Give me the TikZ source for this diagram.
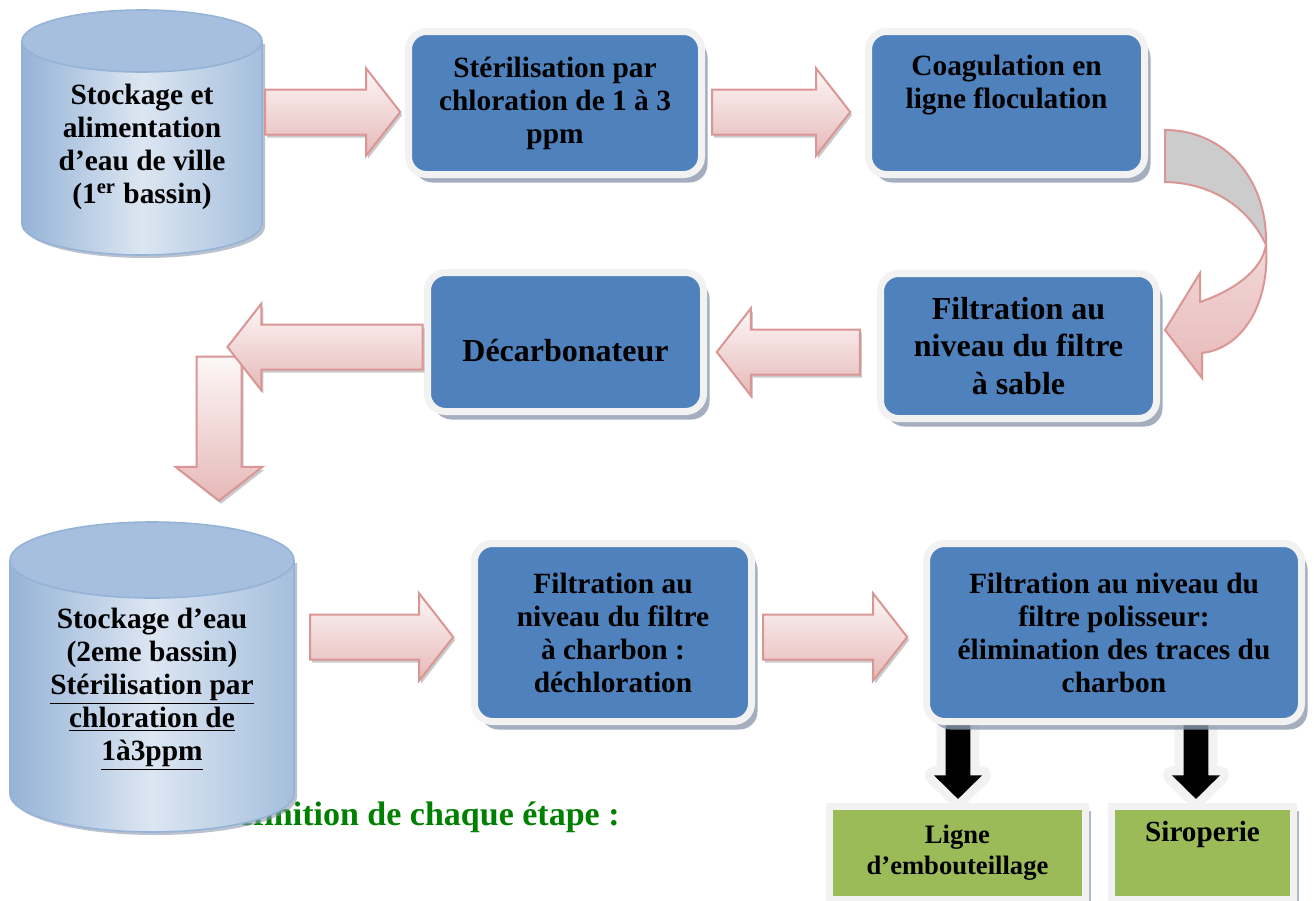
\documentclass[tikz,border=0pt]{standalone}
\usepackage{fontspec}
\setmainfont{Liberation Serif}
\usepackage{xcolor}
\usepackage{tikz}
\usetikzlibrary{shapes.arrows,shadows,positioning}
\definecolor{stageblue}{HTML}{4F81BD}
\definecolor{rim}{HTML}{F2F2F2}
\definecolor{hatch}{HTML}{8D9AAE}
\definecolor{outgreen}{HTML}{9BBB59}
\definecolor{arrowline}{HTML}{D99694}
\definecolor{arrowtop}{HTML}{FDF7F7}
\definecolor{arrowbot}{HTML}{E6B9B8}
\definecolor{tankcapc}{HTML}{A7BFDE}
\definecolor{tankedge}{HTML}{95B3D7}
\definecolor{tanklight}{HTML}{DCE6F2}
\definecolor{titlegreen}{HTML}{008000}
\tikzset{stage/.style={rectangle,rounded corners=9pt,draw=rim,line width=3.5pt,fill=stageblue,inner sep=0pt,align=center,font=\bfseries\fontsize{14.7}{16.5}\selectfont,drop shadow={shadow xshift=3pt,shadow yshift=-4pt,fill=hatch,opacity=0.8}}}
\tikzset{outlet/.style={rectangle,draw=rim,line width=3.5pt,fill=outgreen,inner sep=0pt,align=center,font=\bfseries\fontsize{14.6}{16.5}\selectfont,drop shadow={shadow xshift=2.5pt,shadow yshift=-2pt,fill=hatch,opacity=0.7}}}
\tikzset{flowarrow/.style={single arrow,single arrow head extend=10.5pt,single arrow tip angle=104,single arrow head indent=0pt,inner xsep=0pt,inner ysep=10.75pt,draw=arrowline,line width=1pt,top color=arrowtop,bottom color=arrowbot,drop shadow={shadow xshift=1pt,shadow yshift=-1.5pt,fill=gray!70,opacity=0.6}}}
\tikzset{downflow/.style={flowarrow,shape border rotate=270,inner xsep=10.75pt,inner ysep=0pt}}
\tikzset{outflow/.style={single arrow,shape border rotate=270,single arrow head extend=5.75pt,single arrow tip angle=91,single arrow head indent=0pt,inner xsep=6pt,inner ysep=0pt,minimum height=39pt,fill=black,preaction={draw=rim,line width=9pt,line join=round}}}
\tikzset{tankbody/.style={left color=tankedge,right color=tankedge!85!white,middle color=tanklight,drop shadow={shadow xshift=1.5pt,shadow yshift=-1.5pt,fill=hatch,opacity=0.6}}}
\tikzset{tankline/.style={draw=tankedge,line width=0.8pt}}
\tikzset{tankcap/.style={fill=tankcapc,draw=tankedge,line width=0.8pt}}
\tikzset{tanktext/.style={align=center,inner sep=0pt,font=\bfseries\fontsize{14.7}{16.5}\selectfont}}
\tikzset{titletext/.style={inner sep=0pt,text=titlegreen,font=\bfseries\fontsize{17}{20}\selectfont}}
\tikzset{bendback/.style={fill=black!20,draw=arrowline,line width=1pt}}
\tikzset{bendfront/.style={top color=arrowtop!50!arrowbot,bottom color=arrowbot,draw=arrowline,line width=1pt}}

\begin{document}
\begin{tikzpicture}[x=0.5pt,y=-0.5pt,>=stealth]
        \useasboundingbox (0,0) rectangle (1314,901);
        \node[titletext,anchor=east] (title) at (620,817) {Définition de chaque étape :};

        \shade[tankbody] (22,41) -- (22,224) arc[start angle=180,end angle=360,x radius=60pt,y radius=15.5pt] -- (262,41) -- cycle;
        \draw[tankline] (22,41) -- (22,224) arc[start angle=180,end angle=360,x radius=60pt,y radius=15.5pt] -- (262,41);
        \filldraw[tankcap] (142,41) ellipse[x radius=60pt,y radius=15.5pt];
        \node[tanktext] (tank1) at (142,147) {Stockage et\\alimentation\\d’eau de ville\\(1\textsuperscript{er} bassin)};

        \shade[tankbody] (10,560) -- (10,794) arc[start angle=180,end angle=360,x radius=71pt,y radius=19pt] -- (294,560) -- cycle;
        \draw[tankline] (10,560) -- (10,794) arc[start angle=180,end angle=360,x radius=71pt,y radius=19pt] -- (294,560);
        \filldraw[tankcap] (152,560) ellipse[x radius=71pt,y radius=19pt];
        \node[tanktext] (tank2) at (152,689) {Stockage d’eau\\(2eme bassin)\\\underline{Stérilisation par}\\\underline{chloration de}\\\underline{1à3ppm}};

        \node[outlet,minimum width=128pt,minimum height=46.5pt,font=\bfseries\fontsize{13.3}{15.5}\selectfont] (bottling) at (957.5,853) {Ligne\\d’embouteillage};
        \node[outlet,minimum width=91pt,minimum height=46.5pt] (syrup) at (1202.5,853) {Siroperie\\\strut};
        \node[outflow,anchor=tip] (out1) at ([shift={(0.5,-3.5)}]bottling.north) {};
        \node[outflow,anchor=tip] (out2) at ([shift={(-6.5,-3.5)}]syrup.north) {};

        \node[stage,minimum width=146.5pt,minimum height=71.5pt] (chlor) at (555,103) {Stérilisation par\\chloration de 1 à 3\\ppm};
        \node[stage,minimum width=138pt,minimum height=71.5pt] (coag) at (1006.5,103) {Coagulation en\\ligne floculation\\\strut};
        \node[stage,minimum width=138pt,minimum height=72.5pt,font=\bfseries\fontsize{16}{18.75}\selectfont] (sand) at (1018.5,346) {Filtration au\\niveau du filtre\\à sable};
        \node[stage,minimum width=138pt,minimum height=69.5pt,font=\bfseries\fontsize{16}{18.75}\selectfont,text height=19pt,text depth=0pt] (decarb) at (565.5,342) {Décarbonateur};
        \node[stage,minimum width=138.5pt,minimum height=89pt] (carbon) at (613,632.5) {Filtration au\\niveau du filtre\\à charbon :\\déchloration};
        \node[stage,minimum width=187.5pt,minimum height=89pt] (polish) at (1114,632.5) {Filtration au niveau du\\filtre polisseur:\\élimination des traces du\\charbon};

        \node[flowarrow,anchor=tip,minimum height=67.5pt] (a1) at ([shift={(-3.5,9)}]chlor.west) {};
        \node[flowarrow,anchor=tip,minimum height=69pt] (a2) at ([shift={(-13.5,9)}]coag.west) {};
        \node[flowarrow,shape border rotate=180,anchor=tip,minimum height=71.5pt] (a3) at ([shift={(8.5,10)}]decarb.east) {};
        \node[downflow,anchor=tip,minimum height=72pt] (a5) at (219,502) {};
        \node[flowarrow,shape border rotate=180,anchor=tail,minimum height=97.5pt] (a4) at ([shift={(-0.5,5)}]decarb.west) {};
        \node[flowarrow,anchor=tip,minimum height=71.5pt] (a6) at ([shift={(-16.5,4.5)}]carbon.west) {};
        \node[flowarrow,anchor=tip,minimum height=72pt] (a7) at ([shift={(-14.5,4.5)}]polish.west) {};

        \filldraw[bendback] (1165,130) .. controls (1225,130) and (1268,180) .. (1266,245) .. controls (1250,210) and (1215,183) .. (1165,182) -- cycle;
        \shadedraw[bendfront] (1266,245) .. controls (1270,300) and (1245,348) .. (1202,353) -- (1202,378) -- (1165,330) -- (1200,273) -- (1200,302) .. controls (1235,290) and (1262,270) .. (1266,245) -- cycle;
\end{tikzpicture}
\end{document}
